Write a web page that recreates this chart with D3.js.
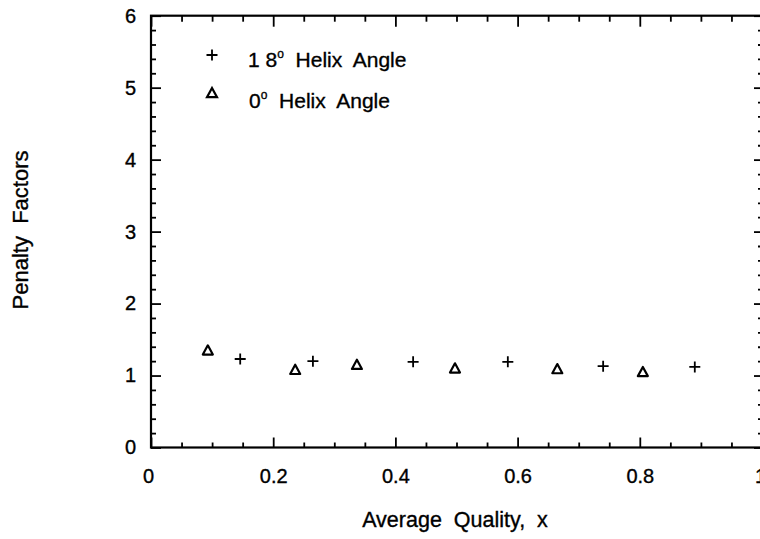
<!DOCTYPE html>
<html>
<head>
<meta charset="utf-8">
<script src="https://cdn.jsdelivr.net/npm/d3@7"></script>
<style>
  body { margin: 0; background: #fff; overflow: hidden; }
  svg { display: block; font-family: "Liberation Sans", Arial, Helvetica, sans-serif; }
  text { fill: #000; stroke: #000; stroke-width: 0.35px; }
  .tick line { stroke: #000; stroke-width: 1.8; }
</style>
</head>
<body>
<svg id="chart" width="760" height="539"></svg>
<script>
// ---- data
var helix18_x = [0.146, 0.265, 0.429, 0.584, 0.740, 0.890];
var helix18_y = [1.23, 1.20, 1.19, 1.19, 1.13, 1.12];
var helix0_x  = [0.093, 0.236, 0.337, 0.4975, 0.665, 0.805];
var helix0_y  = [1.35, 1.08, 1.15, 1.10, 1.09, 1.05];

var xMajor = [0, 0.2, 0.4, 0.6, 0.8, 1];
var xMajorLabels = ["0", "0.2", "0.4", "0.6", "0.8", "1"];
var yMajor = [0, 1, 2, 3, 4, 5, 6];
var legendLabels = ["1 8", "0"];

var margin = {left: 151, top: 15.7, right: -2, bottom: 91.5};
var W = 760 - margin.left - margin.right,
    H = 539 - margin.top - margin.bottom;

var svg = d3.select("#chart");
var g = svg.append("g").attr("transform", "translate(" + margin.left + "," + margin.top + ")");

var x = d3.scaleLinear().domain([0, 1]).range([0, W]);
var y = d3.scaleLinear().domain([0, 6]).range([H, 0]);

var xMinor = d3.range(0, 1.0001, 0.05).filter(function(v){ return Math.abs(v*5 - Math.round(v*5)) > 1e-6; });
var yMinor = d3.range(0, 6.0001, 0.2).filter(function(v){ return Math.abs(v - Math.round(v)) > 1e-6; });

function noDomain(sel){ sel.select(".domain").remove(); }

// bottom axis
g.append("g").attr("transform", "translate(0," + H + ")")
  .call(d3.axisBottom(x).tickValues(xMinor).tickSize(-5).tickFormat(""))
  .call(noDomain);
g.append("g").attr("transform", "translate(0," + H + ")")
  .call(d3.axisBottom(x).tickValues(xMajor).tickSize(-10).tickPadding(21)
        .tickFormat(function(d, i){ return xMajorLabels[i]; }))
  .call(noDomain)
  .selectAll("text").attr("font-size", 20).attr("font-family", null)
  .attr("dx", function(d){ return d === 0 ? -3 : (d === 1 ? -2 : 0); });

// top axis
g.append("g")
  .call(d3.axisTop(x).tickValues(xMinor).tickSize(-6).tickFormat(""))
  .call(noDomain);
g.append("g")
  .call(d3.axisTop(x).tickValues(xMajor).tickSize(-11).tickFormat(""))
  .call(noDomain);

// left axis
g.append("g")
  .call(d3.axisLeft(y).tickValues(yMinor).tickSize(-5).tickFormat(""))
  .call(noDomain);
g.append("g")
  .call(d3.axisLeft(y).tickValues(yMajor).tickSize(-10).tickPadding(15).tickFormat(d3.format("d")))
  .call(noDomain)
  .selectAll("text").attr("font-size", 20).attr("font-family", null);

// right axis
g.append("g").attr("transform", "translate(" + W + ",0)")
  .call(d3.axisRight(y).tickValues(yMinor).tickSize(-4).tickFormat(""))
  .call(noDomain);
g.append("g").attr("transform", "translate(" + W + ",0)")
  .call(d3.axisRight(y).tickValues(yMajor).tickSize(-8).tickFormat(""))
  .call(noDomain);

// frame
g.append("rect")
  .attr("x", 0).attr("y", 0).attr("width", W).attr("height", H)
  .attr("fill", "none").attr("stroke", "#000").attr("stroke-width", 2.2);

// markers
var plusPath = "M-5.5,0H5.5M0,-5.5V5.5";
var triPath = "M0,-5L5,4.2H-5Z";

g.append("g").selectAll("path")
  .data(d3.zip(helix18_x, helix18_y))
  .enter().append("path")
  .attr("d", plusPath)
  .attr("transform", function(d){ return "translate(" + x(d[0]) + "," + y(d[1]) + ")"; })
  .attr("fill", "none").attr("stroke", "#000").attr("stroke-width", 1.8);

g.append("g").selectAll("path")
  .data(d3.zip(helix0_x, helix0_y))
  .enter().append("path")
  .attr("d", triPath)
  .attr("transform", function(d){ return "translate(" + x(d[0]) + "," + y(d[1]) + ")"; })
  .attr("fill", "none").attr("stroke", "#000").attr("stroke-width", 2.2).attr("stroke-linejoin", "round");

// legend
var legend = svg.append("g").attr("transform", "translate(212,0)");
var rows = legend.selectAll("g").data(legendLabels).enter().append("g")
  .attr("transform", function(d, i){ return "translate(0," + (i === 0 ? 55 : 93) + ")"; });
rows.append("path")
  .attr("d", function(d, i){ return i === 0 ? plusPath : triPath; })
  .attr("fill", "none").attr("stroke", "#000")
  .attr("stroke-width", function(d, i){ return i === 0 ? 1.8 : 2.2; });
var lt = rows.append("text")
  .attr("x", function(d, i){ return i === 0 ? 36 : 37; })
  .attr("y", function(d, i){ return i === 0 ? 12 : 15; })
  .attr("font-size", 21)
  .attr("xml:space", "preserve");
lt.append("tspan").text(function(d){ return d; });
lt.append("tspan").attr("font-size", 12).attr("dy", -9).text("o");
lt.append("tspan").attr("dy", 9).text("  Helix  Angle");

// axis titles
svg.append("text")
  .attr("x", 455).attr("y", 527)
  .attr("text-anchor", "middle").attr("font-size", 21.5)
  .attr("xml:space", "preserve")
  .text("Average  Quality,  x");

svg.append("text")
  .attr("transform", "translate(28,230) rotate(-90)")
  .attr("text-anchor", "middle").attr("font-size", 22)
  .attr("xml:space", "preserve")
  .text("Penalty  Factors");
</script>
</body>
</html>
